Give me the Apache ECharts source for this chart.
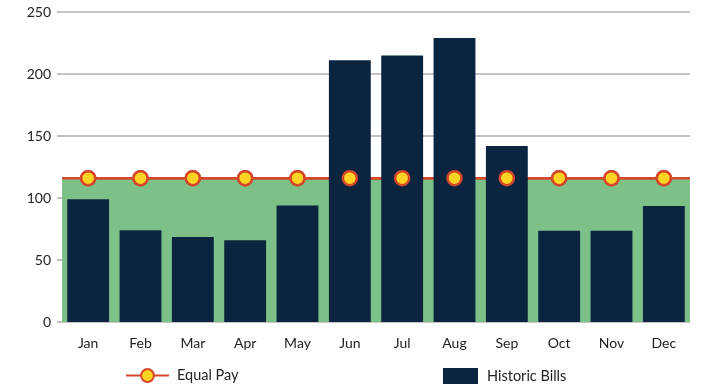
<!DOCTYPE html>
<html>
<head>
<meta charset="utf-8">
<script src="https://cdn.jsdelivr.net/npm/echarts@6/dist/echarts.min.js"></script>
<style>
html,body{margin:0;padding:0;background:#fff;}
#main{width:720px;height:391px;}
</style>
</head>
<body>
<div id="main"></div>
<script>
const categories = ['Jan','Feb','Mar','Apr','May','Jun','Jul','Aug','Sep','Oct','Nov','Dec'];
const historicBills = [99, 74, 68.5, 66, 94, 211, 215, 229, 142, 73.5, 73.5, 93.5];
const equalPay = [116, 116, 116, 116, 116, 116, 116, 116, 116, 116, 116, 116];
const equalPayLevel = 116;
const yTicks = [0, 50, 100, 150, 200, 250];

const FONT = 'Lato';
const red = '#D5472A';
const yellow = '#FFD422';

const chart = echarts.init(document.getElementById('main'), null, {renderer:'canvas'});
chart.setOption({
  animation: false,
  backgroundColor: '#fff',
  textStyle: {fontFamily: FONT},
  grid: {left: 62, right: 30, top: 12, bottom: 69, containLabel: false},
  legend: [
    {data: ['Equal Pay'], left: 120, top: 363, itemWidth: 43, itemHeight: 16,
     textStyle: {fontFamily: FONT, fontSize: 14.5, color: '#222', padding: [0,0,0,3]}, selectedMode: false},
    {data: [{name: 'Historic Bills', icon: 'rect'}], left: 438, top: 363, itemWidth: 35, itemHeight: 16,
     textStyle: {fontFamily: FONT, fontSize: 14.5, color: '#222', padding: [0,0,0,4]}, selectedMode: false}
  ],
  xAxis: [{
    type: 'category', data: categories, boundaryGap: true,
    axisLine: {show: false}, axisTick: {show: false},
    axisLabel: {fontFamily: FONT, fontSize: 14, color: '#222', margin: 14}
  }, {
    type: 'category', data: ['', ''], boundaryGap: false, show: false
  }],
  yAxis: {
    type: 'value', min: yTicks[0], max: yTicks[yTicks.length-1], interval: 50,
    axisLine: {show: false},
    axisTick: {show: true, length: 5, lineStyle: {color: '#aaa', width: 1.5}},
    axisLabel: {fontFamily: FONT, fontSize: 14, color: '#222', margin: 11},
    splitLine: {lineStyle: {color: '#b0b0b0', width: 1.5}}
  },
  series: [
    {
      name: 'Equal Pay level', type: 'line', xAxisIndex: 1,
      data: [equalPayLevel, equalPayLevel], z: 1,
      symbol: 'none', silent: true,
      lineStyle: {color: red, width: 2.5},
      areaStyle: {color: '#7DC189', opacity: 1, origin: 'start'}
    },
    {
      name: 'Equal Pay', type: 'line', data: equalPay, z: 1,
      symbol: 'circle', symbolSize: 14,
      lineStyle: {color: red, width: 2.5},
      itemStyle: {color: yellow, borderColor: red, borderWidth: 2.5},
      silent: true
    },
    {
      name: 'Historic Bills', type: 'bar', data: historicBills, z: 10,
      barCategoryGap: '20%',
      itemStyle: {color: '#0B2540'}
    },
    {
      name: 'Equal Pay markers', type: 'scatter', data: equalPay, z: 20,
      symbol: 'circle', symbolSize: 14,
      itemStyle: {color: yellow, borderColor: red, borderWidth: 2.5, opacity: 1},
      silent: true
    }
  ]
});
</script>
</body>
</html>
